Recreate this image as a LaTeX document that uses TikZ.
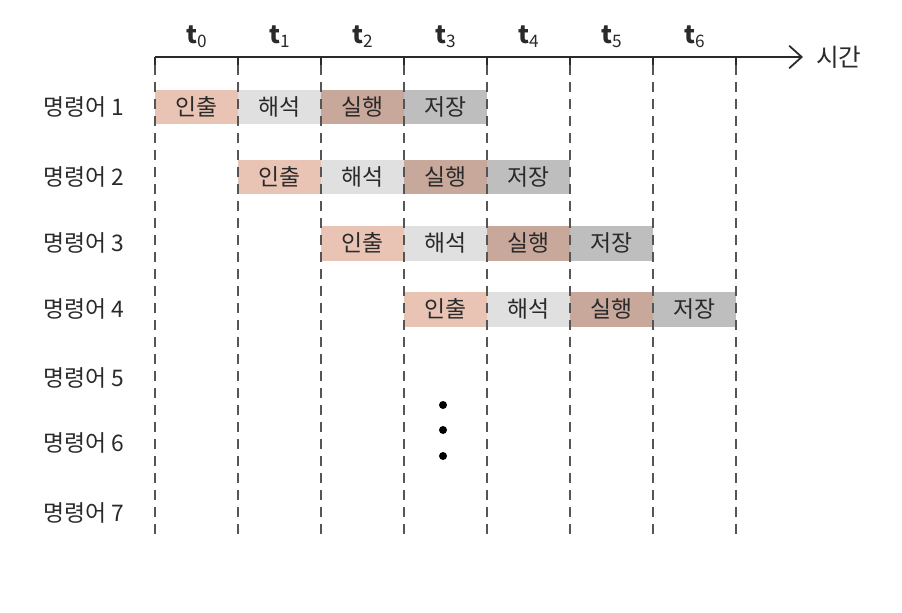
\documentclass[tikz,border=0pt]{standalone}
\usepackage{fontspec}
\setmainfont{Noto Sans CJK KR}
\usetikzlibrary{positioning, calc, arrows.meta}

\definecolor{fetchc}{HTML}{E9C4B4}
\definecolor{decodec}{HTML}{E0E0E0}
\definecolor{execc}{HTML}{C9A89C}
\definecolor{storec}{HTML}{BEBEBE}
\definecolor{inkc}{HTML}{2A2A2A}
\definecolor{gridc}{HTML}{555555}

\begin{document}
\begin{tikzpicture}[x=0.02cm, y=-0.02cm,
    stagebox/.style={minimum width=1.66cm, minimum height=0.7cm, inner sep=0pt,
        text=inkc, font=\fontsize{13}{13}\selectfont},
    rowlabel/.style={anchor=west, text=inkc, font=\fontsize{13}{13}\selectfont},
    timelabel/.style={text=inkc, font=\fontsize{14}{14}\selectfont\bfseries},
    gridline/.style={gridc, line width=0.8pt, dash pattern=on 0.2cm off 0.14cm}]
    \useasboundingbox (0,0) rectangle (902,612);

    % Time axis
    \coordinate (axisstart) at (155,57);
    \coordinate (axisend) at (803,57);
    \draw[inkc, line width=1pt, -{Straight Barb[length=2.5mm, width=4.5mm]}] (axisstart) -- (axisend);
    \node[anchor=west, text=inkc, font=\fontsize{14}{14}\selectfont] (timeword) at (810,57) {시간};

    % Time labels
    \foreach \k in {0,...,6}
        \node[timelabel] (t\k) at (197+83*\k,37) {t\textsubscript{\mdseries\k}};

    % Pipeline stages
    \foreach \i/\y in {1/107,2/177,3/243,4/309} {
        \foreach \s/\word/\col in {0/인출/fetchc,1/해석/decodec,2/실행/execc,3/저장/storec}
            \node[stagebox, fill=\col] (r\i s\s) at (196.5+83*\i-83+83*\s,\y) {\word};
    }

    % Grid lines
    \foreach \k in {0,...,7} {
        \draw[inkc, line width=0.8pt] (155+83*\k,57) -- (155+83*\k,65);
        \draw[gridline] (155+83*\k,65) -- (155+83*\k,540);
    }

    % Instruction labels
    \foreach \i/\y in {1/107,2/177,3/243,4/309,5/378,6/443,7/513}
        \node[rowlabel] (ins\i) at (37,\y) {명령어 \i};

    % More instructions
    \fill[black] (443,405) circle (4);
    \fill[black] (443,430) circle (4);
    \fill[black] (443,456) circle (4);
\end{tikzpicture}
\end{document}
